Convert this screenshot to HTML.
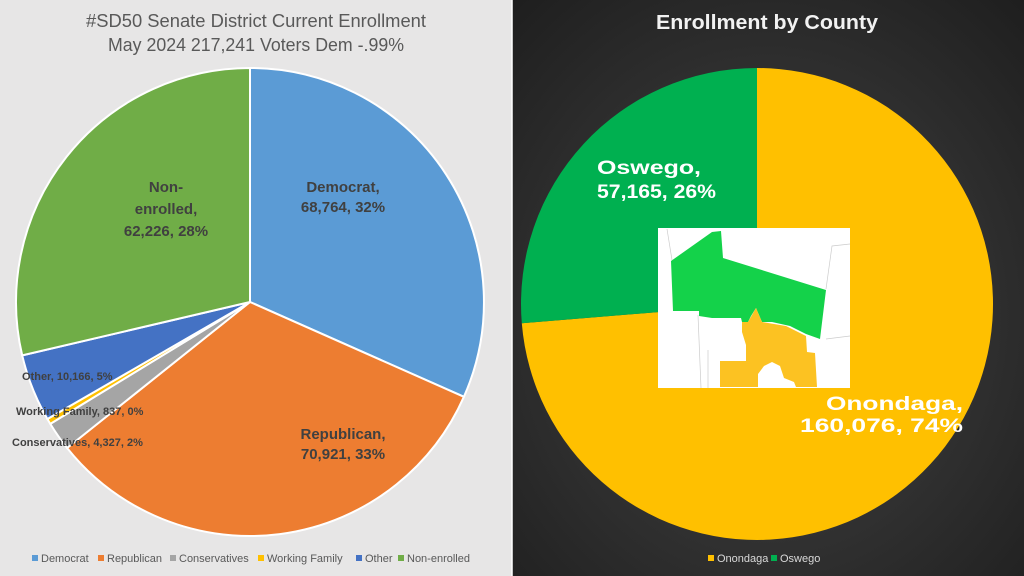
<!DOCTYPE html>
<html><head><meta charset="utf-8"><style>
html,body{margin:0;padding:0;width:1024px;height:576px;overflow:hidden;background:#222;}
svg{display:block;font-family:"Liberation Sans Narrow","Liberation Sans",sans-serif;}
</style></head><body>
<svg width="1024" height="576" viewBox="0 0 1024 576">
<defs>
<radialGradient id="bg" cx="50%" cy="55%" r="75%">
<stop offset="0" stop-color="#454545"/><stop offset="1" stop-color="#1e1e1e"/>
</radialGradient>
</defs>
<rect x="0" y="0" width="512" height="576" fill="#e7e6e6"/>
<rect x="512" y="0" width="512" height="576" fill="url(#bg)"/>
<line x1="512" y1="0" x2="512" y2="576" stroke="#fff" stroke-width="1.5"/>

<text x="256" y="27" text-anchor="middle" font-size="18" fill="#595959" textLength="340" lengthAdjust="spacingAndGlyphs">#SD50 Senate District Current Enrollment</text>
<text x="256" y="51" text-anchor="middle" font-size="18" fill="#595959" textLength="296" lengthAdjust="spacingAndGlyphs">May 2024 217,241 Voters Dem -.99%</text>

<g stroke="#fff" stroke-width="2">
<path d="M250,302 L250,68 A234,234 0 0 1 463.9,396.8 Z" fill="#5b9bd5"/>
<path d="M250,302 L463.9,396.8 A234,234 0 0 1 67.1,448 Z" fill="#ed7d31"/>
<path d="M250,302 L67.1,448 A234,234 0 0 1 50.3,423.9 Z" fill="#a5a5a5"/>
<path d="M250,302 L50.3,423.9 A234,234 0 0 1 47.4,419 Z" fill="#ffc000"/>
<path d="M250,302 L47.4,419 A234,234 0 0 1 22.2,355.4 Z" fill="#4472c4"/>
<path d="M250,302 L22.2,355.4 A234,234 0 0 1 250,68 Z" fill="#70ad47"/>
</g>
<g font-weight="bold" fill="#404040" text-anchor="middle" font-size="15">
<text x="343" y="192">Democrat,</text><text x="343" y="212">68,764, 32%</text>
<text x="343" y="439">Republican,</text><text x="343" y="459">70,921, 33%</text>
<text x="166" y="192">Non-</text><text x="166" y="214">enrolled,</text><text x="166" y="236">62,226, 28%</text>
</g>
<g font-weight="bold" fill="#404040" font-size="11">
<text x="22" y="380">Other, 10,166, 5%</text>
<text x="16" y="415">Working Family, 837, 0%</text>
<text x="12" y="446">Conservatives, 4,327, 2%</text>
</g>
<g font-size="11" fill="#595959">
<rect x="32" y="555" width="6" height="6" fill="#5b9bd5"/><text x="41" y="562">Democrat</text>
<rect x="98" y="555" width="6" height="6" fill="#ed7d31"/><text x="107" y="562">Republican</text>
<rect x="170" y="555" width="6" height="6" fill="#a5a5a5"/><text x="179" y="562">Conservatives</text>
<rect x="258" y="555" width="6" height="6" fill="#ffc000"/><text x="267" y="562">Working Family</text>
<rect x="356" y="555" width="6" height="6" fill="#4472c4"/><text x="365" y="562">Other</text>
<rect x="398" y="555" width="6" height="6" fill="#70ad47"/><text x="407" y="562">Non-enrolled</text>
</g>

<text x="767" y="29" text-anchor="middle" font-size="20" font-weight="bold" fill="#f2f2f2" textLength="222" lengthAdjust="spacingAndGlyphs">Enrollment  by County</text>
<path d="M757,304 L757,68 A236,236 0 1 1 521.8,323.3 Z" fill="#ffc000"/>
<path d="M757,304 L521.8,323.3 A236,236 0 0 1 757,68 Z" fill="#00b050"/>
<rect x="658" y="228" width="192" height="160" fill="#fff"/>
<g fill="none" stroke="#ccc" stroke-width="0.7">
<path d="M667,229 L672,260 M826,289 L832,246 L850,244 M826,339 L850,336 M698,315 L701,388 M708,350 L708,388"/>
</g>
<path d="M671,261 L712,232 L721,231 L723,258 L826,290 L820,339 L806,334 L790,326 L772,322 L762,322 L756,308 L751,316 L748,322 L742,322 L741,318 L712,318 L699,316 L699,311 L673,311 Z" fill="#14d24a"/>
<path d="M720,361 L746,361 L746,345 L742,332 L742,322 L748,322 L756,308 L762,322 L786,326 L806,336 L807,352 L815,353 L817,387 L720,387 Z" fill="#fcc222"/>
<path d="M758,387 L758,374 L764,366 L772,362 L780,366 L784,378 L794,382 L796,387 Z" fill="#fff"/>
<g font-weight="bold" fill="#fff" font-size="19">
<text x="597" y="174" textLength="104" lengthAdjust="spacingAndGlyphs">Oswego,</text><text x="597" y="198" textLength="119" lengthAdjust="spacingAndGlyphs">57,165, 26%</text>
<text x="826" y="410" textLength="137" lengthAdjust="spacingAndGlyphs">Onondaga,</text><text x="800" y="432" textLength="163" lengthAdjust="spacingAndGlyphs">160,076, 74%</text>
</g>
<g font-size="11" fill="#d9d9d9">
<rect x="708" y="555" width="6" height="6" fill="#ffc000"/><text x="717" y="562">Onondaga</text>
<rect x="771" y="555" width="6" height="6" fill="#00b050"/><text x="780" y="562">Oswego</text>
</g>
</svg>
</body></html>
